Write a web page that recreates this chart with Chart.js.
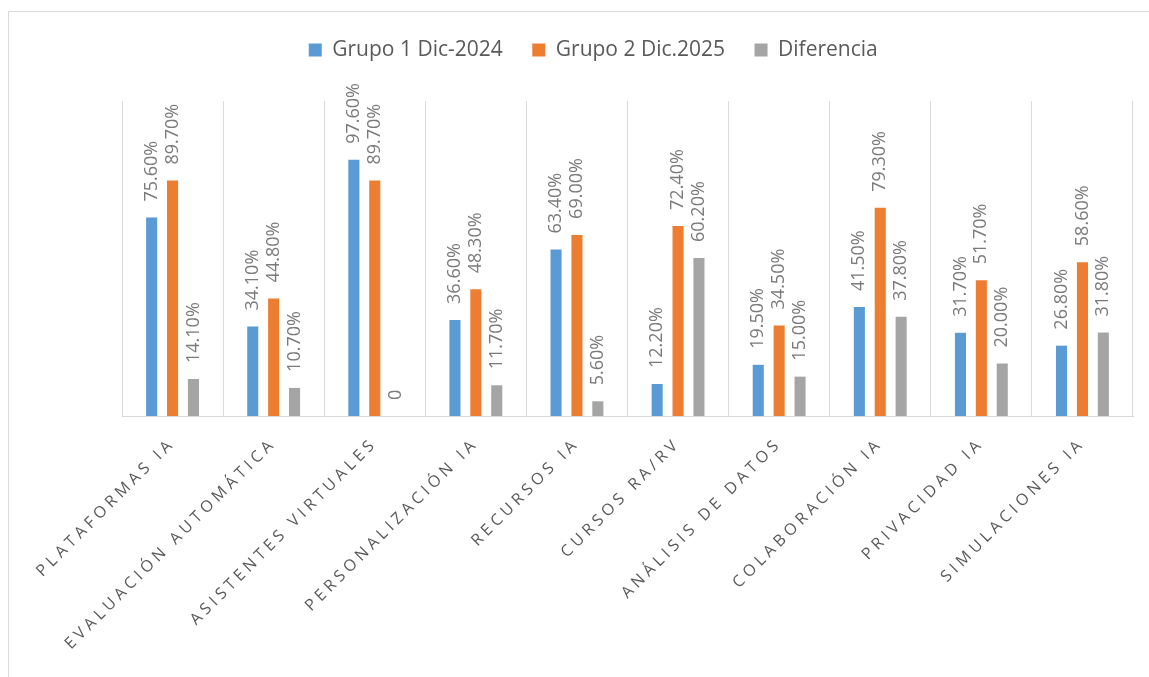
<!DOCTYPE html>
<html><head><meta charset="utf-8">
<script src="https://cdn.jsdelivr.net/npm/chart.js@4.4.1/dist/chart.umd.min.js"></script>
<style>html,body{margin:0;padding:0;background:#fff;overflow:hidden}</style>
</head><body>
<canvas id="c" width="1149" height="677" style="width:1149px;height:677px;display:block"></canvas>
<script>
const categories = ['PLATAFORMAS IA','EVALUACIÓN AUTOMÁTICA','ASISTENTES VIRTUALES','PERSONALIZACIÓN IA','RECURSOS IA','CURSOS RA/RV','ANÁLISIS DE DATOS','COLABORACIÓN IA','PRIVACIDAD IA','SIMULACIONES IA'];
const grupo1 = [75.6, 34.1, 97.6, 36.6, 63.4, 12.2, 19.5, 41.5, 31.7, 26.8];
const grupo2 = [89.7, 44.8, 89.7, 48.3, 69.0, 72.4, 34.5, 79.3, 51.7, 58.6];
const diferencia = [14.1, 10.7, 0, 11.7, 5.6, 60.2, 15.0, 37.8, 20.0, 31.8];
const seriesNames = ['Grupo 1 Dic-2024', 'Grupo 2 Dic.2025', 'Diferencia'];
const seriesColors = ['#5B9BD5', '#ED7D31', '#A5A5A5'];
const yMin = 0, yMax = 120;

const FONT = '"Open Sans", "Noto Sans", sans-serif';

const framePlugin = {
  id: 'frame',
  beforeDraw(chart) {
    const ctx = chart.ctx;
    ctx.save();
    ctx.fillStyle = '#fff';
    ctx.fillRect(0, 0, chart.width, chart.height);
    ctx.strokeStyle = '#D9D9D9';
    ctx.lineWidth = 1;
    ctx.beginPath();
    ctx.moveTo(8.5, chart.height);
    ctx.lineTo(8.5, 11.5);
    ctx.lineTo(chart.width, 11.5);
    ctx.stroke();
    ctx.restore();
    const sx = chart.scales.x;
    if (sx && !sx._spacedPatch) {
      const orig = sx.drawLabels;
      sx.drawLabels = function (area) {
        const c = this.ctx;
        c.save();
        c.letterSpacing = '4.2px';
        orig.call(this, area);
        c.restore();
      };
      sx._spacedPatch = true;
    }
  },
  beforeLayout(chart) {
    const lg = chart.legend;
    if (lg && !lg._spacePatch) {
      const of = lg.fit;
      lg.fit = function () { of.call(this); this.height += 30.5; };
      lg._spacePatch = true;
    }
  }
};

const labelPlugin = {
  id: 'valLabels',
  afterDatasetsDraw(chart) {
    const ctx = chart.ctx;
    ctx.save();
    ctx.font = '18px ' + FONT;
    ctx.fillStyle = '#7A7A7A';
    ctx.textAlign = 'left';
    ctx.textBaseline = 'middle';
    chart.data.datasets.forEach((ds, di) => {
      const meta = chart.getDatasetMeta(di);
      meta.data.forEach((bar, i) => {
        const v = ds.data[i];
        const txt = v === 0 ? '0' : v.toFixed(2) + '%';
        ctx.save();
        ctx.translate(bar.x, bar.y - 16);
        ctx.rotate(-Math.PI / 2);
        ctx.fillText(txt, 0, 0);
        ctx.restore();
      });
    });
    ctx.restore();
  }
};

new Chart(document.getElementById('c'), {
  type: 'bar',
  data: {
    labels: categories,
    datasets: [
      { label: seriesNames[0], data: grupo1, backgroundColor: seriesColors[0] },
      { label: seriesNames[1], data: grupo2, backgroundColor: seriesColors[1] },
      { label: seriesNames[2], data: diferencia, backgroundColor: seriesColors[2] }
    ]
  },
  options: {
    responsive: false,
    animation: false,
    devicePixelRatio: 1,
    layout: { padding: { left: 53.5, right: 16, top: 10, bottom: 0 } },
    datasets: { bar: { categoryPercentage: 0.62, barPercentage: 0.53 } },
    plugins: {
      legend: {
        position: 'top',
        labels: {
          boxWidth: 13, boxHeight: 13, padding: 29.5,
          color: '#595959',
          font: { family: FONT, size: 21 }
        }
      },
      tooltip: { enabled: false }
    },
    scales: {
      x: {
        grid: { display: true, offset: true, color: '#D9D9D9', lineWidth: 1, drawTicks: false },
        border: { display: true, color: '#D9D9D9', width: 1 },
        ticks: {
          autoSkip: false, maxRotation: 45, minRotation: 45,
          color: '#595959', padding: 18,
          font: { family: FONT, size: 16 }
        },
        afterFit(s) { s.height = 261; }
      },
      y: {
        min: yMin, max: yMax,
        grid: { display: false },
        border: { display: false },
        ticks: { display: false },
        afterFit(s) { s.width = 68.5; }
      }
    }
  },
  plugins: [framePlugin, labelPlugin]
});
</script>
</body></html>
